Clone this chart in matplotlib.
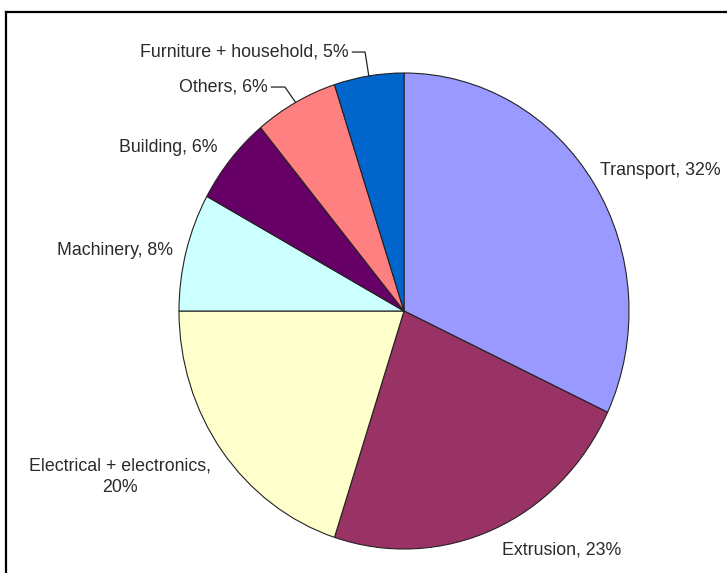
import matplotlib.pyplot as plt
from matplotlib.lines import Line2D
import numpy as np

# data
categories = ["Transport", "Extrusion", "Electrical + electronics", "Machinery",
              "Building", "Others", "Furniture + household"]
shares = [32, 23, 20, 8, 6, 6, 5]
colors = ["#9999FF", "#993366", "#FFFFCC", "#CCFFFF", "#660066", "#FF8080", "#0066CC"]

# label layout (data units of the pie axes, radius = 1)
label_xy = [(0.872, 0.592), (0.702, -1.004), (-1.262, -0.697), (-1.027, 0.256),
            (-0.827, 0.689), (-0.604, 0.941), (-0.244, 1.088)]
label_ha = ["left", "center", "center", "right", "right", "right", "right"]
# categories whose labels sit far enough to need a leader line
leader = {"Others": (-0.529, 0.941), "Furniture + household": (-0.173, 1.088)}

W, H = 727, 573
fig = plt.figure(figsize=(W / 100, H / 100), dpi=100)

# pie centre (404, 311) px, radii 225 x 238 px (slightly stretched like the source)
cx, cy, rx, ry = 404, 311, 225, 238
ax = fig.add_axes([(cx - rx) / W, (H - cy - ry) / H, 2 * rx / W, 2 * ry / H])

wedges, _ = ax.pie(shares, colors=colors, startangle=90, counterclock=False,
                   radius=1, wedgeprops=dict(edgecolor="#222222", linewidth=0.8))
ax.set_aspect("auto")
ax.set_xlim(-1, 1)
ax.set_ylim(-1, 1)
ax.axis("off")

font = dict(family=["Liberation Sans", "DejaVu Sans"], fontsize=12.8, color="#2a2a2a")
for name, share, w, (lx, ly), ha in zip(categories, shares, wedges, label_xy, label_ha):
    if name == "Electrical + electronics":
        txt = f"{name},\n{share}%"
    else:
        txt = f"{name}, {share}%"
    ax.text(lx, ly, txt, ha=ha, va="center", linespacing=1.4, **font)
    if name in leader:
        mid = np.deg2rad((w.theta1 + w.theta2) / 2)
        ex, ey = leader[name]
        ax.plot([lx + 0.015, ex, np.cos(mid)], [ly, ey, np.sin(mid)],
                color="#222222", lw=0.9, clip_on=False)

# outer frame (cut off at right and bottom like the screenshot)
fig.add_artist(Line2D([6 / W, 1], [1 - 12 / H, 1 - 12 / H], color="black", lw=1.6))
fig.add_artist(Line2D([6 / W, 6 / W], [0, 1 - 12 / H], color="black", lw=1.6))

fig.savefig("out.png", dpi=100)
